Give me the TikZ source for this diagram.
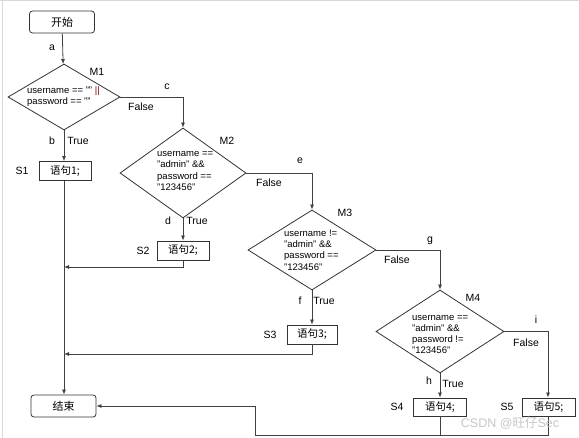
\documentclass[tikz,border=0pt]{standalone}
\usepackage{fontspec}
\setmainfont{Liberation Sans}[Ligatures=NoCommon]
\newfontfamily\cjk{Noto Sans CJK SC}
\usetikzlibrary{shapes.geometric,arrows.meta}
\newcommand\dq{\char34\relax}
\begin{document}
\begin{tikzpicture}[x=1pt,y=-1pt,
 line/.style={draw=black!75, line width=0.8pt},
 arr/.style={line, -{Latex[length=5pt,width=4pt]}},
 term/.style={draw=black!80, line width=0.8pt, rounded corners=3pt, minimum width=65pt, minimum height=22pt, inner sep=0pt, font=\cjk\fontsize{11}{13}\selectfont},
 stmt/.style={draw=black!80, line width=0.8pt, minimum height=19pt, inner sep=0pt, font=\cjk\fontsize{10.5}{12}\selectfont},
 dec/.style={diamond, draw=black!80, line width=0.8pt, inner sep=0pt},
 dtext/.style={align=left, inner sep=0pt, font=\fontsize{9.5}{11.3}\selectfont, anchor=west},
 lbl/.style={inner sep=0pt, font=\fontsize{10.5}{12}\selectfont}
]
\useasboundingbox (0,0) rectangle (579,438);
\draw[gray!30, line width=1pt] (0,0.5) -- (579,0.5);
\draw[gray!30, line width=1pt] (2,0) -- (2,438);

% nodes
\node[term] (start) at (62,22) {开始};
\node[dec, minimum width=112pt, minimum height=66pt] (M1) at (64,97) {};
\node[dtext] (M1t) at (27,96.5) {username == \dq\dq{} \textcolor{red!55!black}{||}\\password == \dq\dq};
\node[stmt, minimum width=52pt] (S1) at (65,171) {语句1;};
\node[dec, minimum width=126pt, minimum height=90pt] (M2) at (183,173) {};
\node[dtext] (M2t) at (157,171) {username ==\\\dq admin\dq{} \&\&\\password ==\\\dq 123456\dq};
\node[stmt, minimum width=52pt] (S2) at (183,250.5) {语句2;};
\node[dec, minimum width=128pt, minimum height=80pt] (M3) at (312,250) {};
\node[dtext] (M3t) at (284,250) {username !=\\\dq admin\dq{} \&\&\\password ==\\\dq 123456\dq};
\node[stmt, minimum width=50pt] (S3) at (312,334.5) {语句3;};
\node[dec, minimum width=128pt, minimum height=83pt] (M4) at (440,331.5) {};
\node[dtext] (M4t) at (412,334.5) {username ==\\\dq admin\dq{} \&\&\\password !=\\\dq 123456\dq};
\node[stmt, minimum width=53pt, minimum height=18pt] (S4) at (440,407) {语句4;};
\node[stmt, minimum width=53pt, minimum height=18pt] (S5) at (548.5,407) {语句5;};
\node[term] (end) at (63.5,406) {结束};

% connectors
\draw[arr] (start) -- (M1);
\draw[arr] (M1.south) -- (M1.south |- S1.north);
\draw[arr] (M1.south |- S1.south) -- (M1.south |- end.north);
\draw[arr] (M1.east) -| (M2.north);
\draw[arr] (M2.south) -- (M2.south |- S2.north);
\draw[arr] (M2.east) -| (M3.north);
\draw[arr] (M3.south) -- (M3.south |- S3.north);
\draw[arr] (M3.east) -| (M4.north);
\draw[arr] (M4.south) -- (M4.south |- S4.north);
\coordinate (r5) at (548,331.5);
\draw[arr] (M4.east) -- (r5) -- (r5 |- S5.north);
\coordinate (r2) at (183,267);
\draw[arr] (S2.south) -- (S2.south |- r2) -- (M1.south |- r2);
\coordinate (r3) at (312,354);
\draw[arr] (S3.south) -- (S3.south |- r3) -- (M1.south |- r3);
\coordinate (b) at (255,435);
\draw[line] (S4.south) -- (S4.south |- b);
\draw[line] (r5 |- S5.south) -- (r5 |- b) -- (b);
\draw[arr] (b) |- (end.east);

% labels
\node[lbl] at (52,48) {a};
\node[lbl] at (97,72) {M1};
\node[lbl] at (167,87) {c};
\node[lbl] at (141,107) {False};
\node[lbl] at (52,141) {b};
\node[lbl] at (78,141) {True};
\node[lbl] at (22,171) {S1};
\node[lbl] at (227,141) {M2};
\node[lbl] at (300,161) {e};
\node[lbl] at (269,183) {False};
\node[lbl] at (168,221) {d};
\node[lbl] at (197,221) {True};
\node[lbl] at (143,251) {S2};
\node[lbl] at (345,213) {M3};
\node[lbl] at (430,241) {g};
\node[lbl] at (397,260) {False};
\node[lbl] at (300,301) {f};
\node[lbl] at (324,301) {True};
\node[lbl] at (270,335) {S3};
\node[lbl] at (473,298) {M4};
\node[lbl] at (536,320) {i};
\node[lbl] at (526,343) {False};
\node[lbl] at (429,381) {h};
\node[lbl] at (453,384) {True};
\node[lbl] at (397,407) {S4};
\node[lbl] at (507,407) {S5};
\node[inner sep=0pt, text=gray!45, font=\fontsize{12.5}{14}\selectfont] (wm) at (510,423) {CSDN @{\cjk 旺仔}Sec};
\end{tikzpicture}
\end{document}
